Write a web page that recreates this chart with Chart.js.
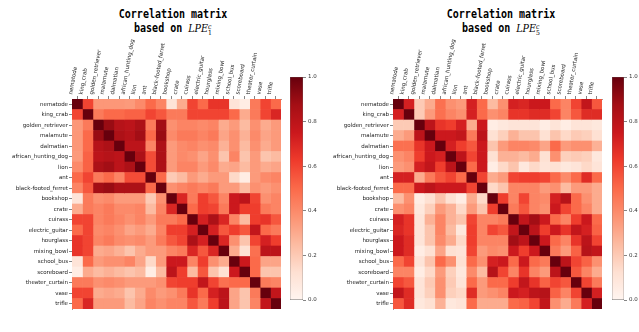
<!DOCTYPE html>
<html>
<head>
<meta charset="utf-8">
<script src="https://cdn.jsdelivr.net/npm/chart.js@4.4.0/dist/chart.umd.min.js"></script>
<style>
body { margin: 0; background: #fff; overflow: hidden; }
#wrap { position: relative; width: 639px; height: 332px; }
canvas { position: absolute; top: 0; }
.ttl { position: absolute; width: 200px; text-align: center; font-family: "DejaVu Sans Mono", monospace; font-weight: bold; font-size: 11.5px; color: #000; line-height: 14px; transform: scaleX(0.87); transform-origin: center top; }
.m { font-family: "DejaVu Serif", serif; font-style: italic; font-weight: normal; font-size: 11px; }
.st { display: inline-block; vertical-align: -3px; line-height: 6.5px; font-size: 7px; font-family: "DejaVu Serif", serif; font-weight: normal; text-align: left; }
.st span { display: block; }
</style>
</head>
<body>
<div id="wrap">
  <div class="ttl" style="left:73px;top:7px">Correlation matrix<br>based on <span class="m">LPE</span><span class="st"><span style="font-style:italic">c</span><span>1</span></span></div>
  <div class="ttl" style="left:401px;top:7px">Correlation matrix<br>based on <span class="m">LPE</span><span class="st"><span style="font-style:italic">c</span><span>5</span></span></div>
  <canvas id="hmL" width="290" height="332" style="left:0"></canvas>
  <canvas id="cbL" width="40" height="332" style="left:285px"></canvas>
  <canvas id="hmR" width="290" height="332" style="left:321px"></canvas>
  <canvas id="cbR" width="32" height="332" style="left:607px"></canvas>
</div>
<script>
const names = ["nematode", "king_crab", "golden_retriever", "malamute", "dalmatian", "african_hunting_dog",
  "lion", "ant", "black-footed_ferret", "bookshop", "crate", "cuirass", "electric_guitar", "hourglass",
  "mixing_bowl", "school_bus", "scoreboard", "theater_curtain", "vase", "trifle"]

// correlation matrix based on LPE_1^c
const lpe1 = [
  [1, .6, .36, .36, .36, .35, .4, .5, .42, .1, .3, .6, .5, .65, .65, .1, .05, .45, .6, .5],
  [.6, 1, .45, .5, .5, .52, .52, .6, .55, .45, .45, .6, .6, .6, .6, .5, .3, .45, .6, .7],
  [.36, .45, 1, .9, .82, .8, .85, .45, .88, .38, .42, .42, .4, .42, .3, .35, .25, .38, .3, .35],
  [.36, .5, .9, 1, .85, .82, .88, .5, .9, .4, .45, .45, .42, .45, .32, .38, .28, .4, .32, .35],
  [.36, .5, .82, .85, 1, .8, .8, .42, .85, .35, .4, .42, .38, .4, .28, .38, .25, .38, .3, .35],
  [.35, .52, .8, .82, .8, 1, .85, .58, .85, .35, .4, .38, .32, .38, .22, .42, .22, .35, .22, .25],
  [.4, .52, .85, .88, .8, .85, 1, .58, .85, .35, .42, .42, .35, .4, .3, .32, .25, .35, .3, .32],
  [.5, .6, .45, .5, .42, .58, .58, 1, .5, .2, .25, .35, .3, .35, .35, .15, .05, .35, .4, .42],
  [.42, .55, .88, .9, .85, .85, .85, .5, 1, .38, .42, .45, .42, .45, .35, .35, .25, .38, .35, .38],
  [.1, .45, .38, .4, .35, .35, .35, .2, .38, 1, .7, .45, .62, .55, .42, .75, .8, .6, .38, .42],
  [.3, .45, .42, .45, .4, .4, .42, .25, .42, .7, 1, .5, .62, .6, .45, .75, .62, .62, .45, .42],
  [.6, .6, .42, .45, .42, .38, .42, .35, .45, .45, .5, 1, .72, .85, .7, .42, .25, .62, .65, .55],
  [.5, .6, .4, .42, .38, .32, .35, .3, .42, .62, .62, .72, 1, .72, .55, .62, .55, .78, .5, .45],
  [.65, .6, .42, .45, .4, .38, .4, .35, .45, .55, .6, .85, .72, 1, .7, .38, .22, .6, .72, .62],
  [.65, .6, .3, .32, .28, .22, .3, .35, .35, .42, .45, .7, .55, .7, 1, .3, .12, .48, .8, .8],
  [.1, .5, .35, .38, .38, .42, .32, .15, .35, .75, .75, .42, .62, .38, .3, 1, .75, .5, .32, .32],
  [.05, .3, .25, .28, .25, .22, .25, .05, .25, .8, .62, .25, .55, .22, .12, .75, 1, .5, .22, .22],
  [.45, .45, .38, .4, .38, .35, .35, .35, .38, .6, .62, .62, .78, .6, .48, .5, .5, 1, .45, .42],
  [.6, .6, .3, .32, .3, .22, .3, .4, .35, .38, .45, .65, .5, .72, .8, .32, .22, .45, 1, .78],
  [.5, .7, .35, .35, .35, .25, .32, .42, .38, .42, .42, .55, .45, .62, .8, .32, .22, .42, .78, 1]
]

// correlation matrix based on LPE_5^c
const lpe5 = [
  [1, .72, .2, .3, .48, .38, .35, .72, .5, .25, .38, .72, .7, .75, .75, .5, .42, .6, .78, .55],
  [.72, 1, .2, .35, .48, .42, .38, .72, .5, .38, .42, .65, .65, .68, .68, .6, .42, .55, .68, .68],
  [.2, .2, 1, .8, .65, .62, .72, .3, .75, .05, .08, .1, .1, .1, .05, .1, .05, .1, .1, .08],
  [.3, .35, .8, 1, .75, .75, .78, .45, .8, .12, .18, .28, .22, .22, .12, .22, .15, .2, .18, .12],
  [.48, .48, .65, .75, 1, .72, .62, .55, .75, .22, .35, .42, .42, .4, .32, .5, .35, .38, .38, .28],
  [.38, .42, .62, .75, .72, 1, .8, .6, .75, .12, .28, .28, .25, .3, .12, .38, .18, .2, .18, .08],
  [.35, .38, .72, .78, .62, .8, 1, .5, .75, .05, .15, .22, .08, .15, .1, .12, .08, .1, .15, .1],
  [.72, .72, .3, .45, .55, .6, .5, 1, .6, .3, .35, .6, .62, .62, .6, .5, .4, .5, .68, .5],
  [.5, .5, .75, .8, .75, .75, .75, .6, 1, .15, .22, .42, .42, .42, .35, .38, .25, .35, .35, .3],
  [.25, .38, .05, .12, .22, .12, .05, .3, .15, 1, .62, .42, .6, .42, .4, .72, .82, .5, .38, .3],
  [.38, .42, .08, .18, .35, .28, .15, .35, .22, .62, 1, .45, .55, .42, .38, .75, .6, .5, .42, .3],
  [.72, .65, .1, .28, .42, .28, .22, .6, .42, .42, .45, 1, .78, .88, .75, .5, .42, .62, .75, .5],
  [.7, .65, .1, .22, .42, .25, .08, .62, .42, .6, .55, .78, 1, .8, .62, .75, .65, .78, .72, .52],
  [.75, .68, .1, .22, .4, .3, .15, .62, .42, .42, .42, .88, .8, 1, .75, .5, .42, .65, .8, .6],
  [.75, .68, .05, .12, .32, .12, .1, .6, .35, .4, .38, .75, .62, .75, 1, .45, .35, .52, .82, .78],
  [.5, .6, .1, .22, .5, .38, .12, .5, .38, .72, .75, .5, .75, .5, .45, 1, .8, .6, .52, .38],
  [.42, .42, .05, .15, .35, .18, .08, .4, .25, .82, .6, .42, .65, .42, .35, .8, 1, .55, .42, .3],
  [.6, .55, .1, .2, .38, .2, .1, .5, .35, .5, .5, .62, .78, .65, .52, .6, .55, 1, .6, .45],
  [.78, .68, .1, .18, .38, .18, .15, .68, .35, .38, .42, .75, .72, .8, .82, .52, .42, .6, 1, .72],
  [.55, .68, .08, .12, .28, .08, .1, .5, .3, .3, .3, .5, .52, .6, .78, .38, .3, .45, .72, 1]
]

const cbTicks = [0, 0.2, 0.4, 0.6, 0.8, 1.0]

// matplotlib "Reds"
const redsStops = ["#fff5f0", "#fee0d2", "#fcbba1", "#fc9272", "#fb6a4a", "#ef3b2c", "#cb181d", "#a50f15", "#67000d"]

function hex(c) {
  return [parseInt(c.slice(1, 3), 16), parseInt(c.slice(3, 5), 16), parseInt(c.slice(5, 7), 16)]
}

function reds(v) {
  v = Math.max(0, Math.min(1, v))
  var p = v * (redsStops.length - 1)
  var i = Math.min(Math.floor(p), redsStops.length - 2)
  var t = p - i
  var a = hex(redsStops[i]), b = hex(redsStops[i + 1])
  var rgb = a.map((x, k) => Math.round(x + (b[k] - x) * t))
  return `rgb(${rgb[0]},${rgb[1]},${rgb[2]})`
}

const tickFont = { family: "DejaVu Sans", size: 5.5 }

function heatmap(id, matrix) {
  // one floating-bar dataset per column, bars overlap (grouped: false)
  var datasets = names.map(function(_, j) {
    return {
      data: names.map(() => [j, j + 1]),
      backgroundColor: matrix.map(row => reds(row[j])),
      borderWidth: 0,
      grouped: false,
      barPercentage: 1,
      categoryPercentage: 1
    }
  })

  return new Chart(document.getElementById(id), {
    type: 'bar',
    data: { labels: names, datasets: datasets },
    options: {
      indexAxis: 'y',
      responsive: false,
      animation: false,
      layout: { padding: { left: 0, right: 9, top: 0, bottom: 23 } },
      plugins: { legend: { display: false }, tooltip: { enabled: false } },
      scales: {
        x: {
          type: 'linear',
          position: 'top',
          min: 0,
          max: names.length,
          afterBuildTicks: function(axis) {
            axis.ticks = names.map((_, i) => ({ value: i + 0.5 }))
          },
          afterFit: function(axis) { axis.height = 99 },
          ticks: {
            autoSkip: false,
            minRotation: 80,
            maxRotation: 80,
            padding: 1,
            color: '#222',
            font: tickFont,
            callback: v => names[Math.round(v - 0.5)]
          },
          grid: { drawOnChartArea: false, tickLength: 3, color: '#333', lineWidth: 0.6 },
          border: { display: true, color: '#333', width: 0.6 }
        },
        y: {
          type: 'category',
          offset: true,
          afterFit: function(axis) { axis.width = 72 },
          ticks: { autoSkip: false, padding: 1, color: '#222', font: tickFont },
          grid: { offset: false, drawOnChartArea: false, tickLength: 3, color: '#333', lineWidth: 0.6 },
          border: { display: true, color: '#333', width: 0.6 }
        }
      }
    }
  })
}

function colorbar(id, axisWidth) {
  return new Chart(document.getElementById(id), {
    type: 'bar',
    data: {
      labels: ['cb'],
      datasets: [{
        data: [[0, 1]],
        backgroundColor: function(ctx) {
          var area = ctx.chart.chartArea
          if (!area) return '#fff'
          var g = ctx.chart.ctx.createLinearGradient(0, area.bottom, 0, area.top)
          redsStops.forEach((c, i) => g.addColorStop(i / (redsStops.length - 1), c))
          return g
        },
        borderColor: '#666',
        borderWidth: 0.6,
        borderSkipped: false,
        barPercentage: 1,
        categoryPercentage: 1
      }]
    },
    options: {
      responsive: false,
      animation: false,
      layout: { padding: { left: 5, right: 0, top: 77, bottom: 32 } },
      plugins: { legend: { display: false }, tooltip: { enabled: false } },
      scales: {
        x: { display: false },
        y: {
          position: 'right',
          min: 0,
          max: 1,
          afterBuildTicks: function(axis) {
            axis.ticks = cbTicks.map(v => ({ value: v }))
          },
          afterFit: function(axis) { axis.width = axisWidth },
          ticks: { padding: 2, color: '#333', font: tickFont, callback: v => v.toFixed(1) },
          grid: { drawOnChartArea: false, tickLength: 3, color: '#333', lineWidth: 0.6 },
          border: { display: false }
        }
      }
    }
  })
}

heatmap('hmL', lpe1)
heatmap('hmR', lpe5)
colorbar('cbL', 22)
colorbar('cbR', 15)
</script>
</body>
</html>
